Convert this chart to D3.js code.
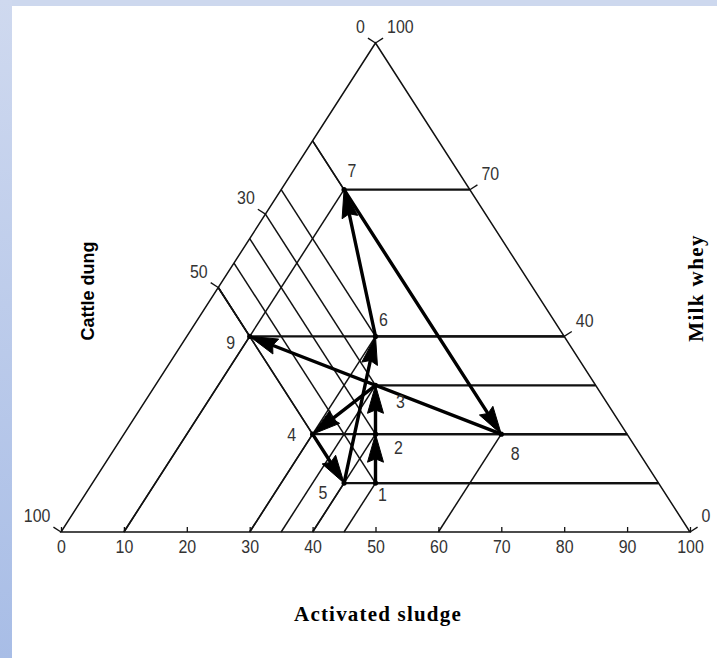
<!DOCTYPE html>
<html>
<head>
<meta charset="utf-8">
<script src="https://cdn.jsdelivr.net/npm/d3@7"></script>
<style>
  html, body { margin: 0; padding: 0; background: #fff; overflow: hidden; }
</style>
</head>
<body>
<svg id="chart" width="717" height="658"></svg>
<script>
// Mixture composition of each run, in percent
const sampleIds       = ["1", "2", "3", "4", "5", "6", "7", "8", "9"];
const cattleDung      = [45, 40, 35, 50, 50, 30, 20, 20, 50];
const activatedSludge = [45, 40, 35, 30, 40, 30, 10, 60, 10];
const milkWhey        = [10, 20, 30, 20, 10, 40, 70, 20, 40];
// Order in which the runs are linked by arrows
const sequence = ["1", "2", "3", "4", "5", "6", "7", "8", "9"];

// Axis ticks
const sludgeTicks  = [0, 10, 20, 30, 40, 50, 60, 70, 80, 90, 100];
const dungTickAt   = [0, 35, 50, 100];
const dungTickText = ["0", "30", "50", "100"];
const wheyTicks    = [0, 40, 70, 100];

const W = 717, H = 658;
const svg = d3.select("#chart");

// ---- page backdrop ----
const defs = svg.append("defs");
const grad = defs.append("linearGradient").attr("id", "band")
  .attr("x1", 0).attr("y1", 0).attr("x2", 0).attr("y2", 1);
grad.append("stop").attr("offset", "0%").attr("stop-color", "#cfd9ef");
grad.append("stop").attr("offset", "100%").attr("stop-color", "#a8bde6");
svg.append("rect").attr("width", W).attr("height", H).attr("fill", "#fff");
svg.append("rect").attr("x", 0).attr("y", 0).attr("width", W).attr("height", 6).attr("fill", "#cdd8ee");
svg.append("rect").attr("x", 0).attr("y", 0).attr("width", 12).attr("height", H).attr("fill", "url(#band)");

// ---- fonts ----
function hasFont(name) {
  const c = document.createElement("canvas").getContext("2d");
  c.font = "40px monospace";
  const w0 = c.measureText("100 abc").width;
  c.font = `40px '${name}', monospace`;
  return c.measureText("100 abc").width !== w0;
}
const narrow = hasFont("Liberation Sans Narrow");
const numFont = narrow ? "'Liberation Sans Narrow', 'Liberation Sans', Arial, sans-serif"
                       : "'Liberation Sans', Arial, sans-serif";
const squeeze = narrow ? 1 : 0.84;
const numSize = 19;
const numColor = "#333";

// ---- ternary projection ----
// x: activated sludge along the base, y: milk whey towards the apex
const x = d3.scaleLinear().domain([0, 100]).range([61, 690]);
const y = d3.scaleLinear().domain([0, 100]).range([532, 43]);
const proj = (b, c) => [x(b + c / 2), y(c)];

const A = proj(0, 0), B = proj(100, 0), C = proj(0, 100);

function unit(dx, dy) { const L = Math.hypot(dx, dy); return [dx / L, dy / L]; }
// outward normals of the two slanted sides
const nLeft  = unit(-(C[1] - A[1]), (C[0] - A[0]));
const nRight = unit((C[1] - B[1]), -(C[0] - B[0]));
if (nLeft[0] > 0) { nLeft[0] *= -1; nLeft[1] *= -1; }
if (nRight[0] < 0) { nRight[0] *= -1; nRight[1] *= -1; }

const samples = sampleIds.map((id, i) => ({
  id, a: cattleDung[i], b: activatedSludge[i], c: milkWhey[i],
  p: proj(activatedSludge[i], milkWhey[i])
}));
const byId = new Map(samples.map(s => [s.id, s]));

const g = svg.append("g");

// ---- reading lines from each run to the three sides ----
const reading = g.append("g").attr("fill", "none").attr("stroke", "#111");
samples.forEach(s => {
  const toBase  = proj(s.b, 0);
  const toLeft  = proj(0, 100 - s.a);
  const toRight = proj(100 - s.c, s.c);
  reading.append("line").attr("x1", s.p[0]).attr("y1", s.p[1])
    .attr("x2", toBase[0]).attr("y2", toBase[1]).attr("stroke-width", 1.5);
  reading.append("line").attr("x1", s.p[0]).attr("y1", s.p[1])
    .attr("x2", toLeft[0]).attr("y2", toLeft[1]).attr("stroke-width", 1.5);
  reading.append("line").attr("x1", s.p[0]).attr("y1", s.p[1])
    .attr("x2", toRight[0]).attr("y2", toRight[1]).attr("stroke-width", 2.2);
});

// ---- triangle frame ----
g.append("path")
  .attr("d", d3.line()([A, B, C, A]) + "Z")
  .attr("fill", "none").attr("stroke", "#111").attr("stroke-width", 1.5);

// ---- base axis: activated sludge ----
const axis = d3.axisBottom(x).tickValues(sludgeTicks)
  .tickSize(-5).tickSizeOuter(0).tickPadding(8);
const gAxis = g.append("g").attr("transform", `translate(0,${y(0)})`).call(axis);
gAxis.select(".domain").remove();
gAxis.selectAll(".tick line").attr("stroke", "#111").attr("stroke-width", 1.3);
gAxis.selectAll(".tick text")
  .attr("font-family", numFont).attr("font-size", numSize).attr("fill", numColor)
  .attr("transform", `scale(${squeeze},1)`);
gAxis.attr("font-family", null).attr("font-size", null);

// ---- side ticks ----
const tickLen = 9;
function sideTick(pt, n, text, anchor) {
  const e = [pt[0] + n[0] * tickLen, pt[1] + n[1] * tickLen];
  g.append("line").attr("x1", pt[0]).attr("y1", pt[1]).attr("x2", e[0]).attr("y2", e[1])
    .attr("stroke", "#111").attr("stroke-width", 1.3);
  const tx = anchor === "end" ? e[0] - 3 : e[0] + 4;
  g.append("text")
    .attr("transform", `translate(${tx},${e[1] - 5}) scale(${squeeze},1)`)
    .attr("text-anchor", anchor)
    .attr("font-family", numFont).attr("font-size", numSize).attr("fill", numColor)
    .text(text);
}
dungTickAt.forEach((v, i) => sideTick(proj(0, 100 - v), nLeft, dungTickText[i], "end"));
wheyTicks.forEach(v => sideTick(proj(100 - v, v), nRight, String(v), "start"));

// ---- arrows linking the runs ----
const headLen = 28, headHalf = 8;
const arrows = g.append("g");
d3.pairs(sequence).forEach(([from, to]) => {
  const p = byId.get(from).p, q = byId.get(to).p;
  const [ux, uy] = unit(q[0] - p[0], q[1] - p[1]);
  const stop = [q[0] - ux * headLen * 0.6, q[1] - uy * headLen * 0.6];
  arrows.append("line").attr("x1", p[0]).attr("y1", p[1])
    .attr("x2", stop[0]).attr("y2", stop[1])
    .attr("stroke", "#000").attr("stroke-width", 3.4).attr("stroke-linecap", "round");
  const bx = q[0] - ux * headLen, by = q[1] - uy * headLen;
  arrows.append("path")
    .attr("d", d3.line()([q, [bx - uy * headHalf, by + ux * headHalf],
                           [q[0] - ux * headLen * 0.88, q[1] - uy * headLen * 0.88],
                           [bx + uy * headHalf, by - ux * headHalf]]) + "Z")
    .attr("fill", "#000").attr("stroke", "#000").attr("stroke-width", 1);
});

// ---- run markers and labels ----
g.append("g").selectAll("circle").data(samples).join("circle")
  .attr("cx", d => d.p[0]).attr("cy", d => d.p[1]).attr("r", 2.6).attr("fill", "#000");

// label placement relative to each run (px)
const labelOffset = {
  "1": [7, 18], "2": [23, 20], "3": [25, 23], "4": [-21, 7], "5": [-21, 16],
  "6": [8, -10], "7": [8, -13], "8": [14, 26], "9": [-19, 13]
};
g.append("g").selectAll("text").data(samples).join("text")
  .attr("transform", d => `translate(${d.p[0] + labelOffset[d.id][0]},${d.p[1] + labelOffset[d.id][1]}) scale(${squeeze},1)`)
  .attr("text-anchor", "middle")
  .attr("font-family", numFont).attr("font-size", numSize).attr("fill", numColor)
  .text(d => d.id);

// ---- axis titles ----
g.append("text")
  .attr("x", 378).attr("y", 621).attr("text-anchor", "middle")
  .attr("font-family", "'Liberation Serif', 'Times New Roman', serif")
  .attr("font-weight", "bold").attr("font-size", 21).attr("letter-spacing", 1.2)
  .attr("fill", "#000").text("Activated sludge");
g.append("text")
  .attr("transform", "translate(703,288) rotate(-90)").attr("text-anchor", "middle")
  .attr("font-family", "'Liberation Serif', 'Times New Roman', serif")
  .attr("font-weight", "bold").attr("font-size", 21).attr("letter-spacing", 1.4)
  .attr("fill", "#000").text("Milk whey");
g.append("text")
  .attr("transform", "translate(94,291) rotate(-90)").attr("text-anchor", "middle")
  .attr("font-family", "'Liberation Sans', Arial, sans-serif")
  .attr("font-weight", "bold").attr("font-size", 18)
  .attr("fill", "#000").text("Cattle dung");
</script>
</body>
</html>
